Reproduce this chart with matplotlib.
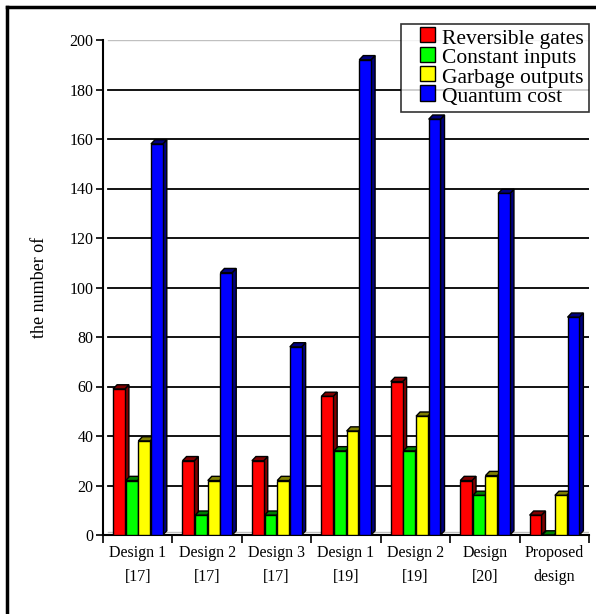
import numpy as np
import matplotlib
matplotlib.use('Agg')
import matplotlib.pyplot as plt
from matplotlib.patches import Polygon, Patch, Rectangle
from matplotlib.legend_handler import HandlerPatch

plt.rcParams['font.family'] = ['Liberation Serif', 'DejaVu Serif']

# values
designs = ['Design 1\n[17]', 'Design 2\n[17]', 'Design 3\n[17]', 'Design 1\n[19]',
           'Design 2\n[19]', 'Design\n[20]', 'Proposed\ndesign']
reversible_gates = [59, 30, 30, 56, 62, 22, 8]
constant_inputs = [22, 8, 8, 34, 34, 16, 0]
garbage_outputs = [38, 22, 22, 42, 48, 24, 16]
quantum_cost = [158, 106, 76, 192, 168, 138, 88]

series = [('Reversible gates', reversible_gates, '#ff0000', '#800000'),
          ('Constant inputs', constant_inputs, '#00ff00', '#008000'),
          ('Garbage outputs', garbage_outputs, '#ffff00', '#808000'),
          ('Quantum cost', quantum_cost, '#0000ff', '#000080')]

fig = plt.figure(figsize=(5.96, 6.14), dpi=100)
ax = fig.add_axes([103/596, 1 - 535/614, (589 - 103)/596, (535 - 40)/614])

n = len(designs)
ax.set_xlim(0, n)
ax.set_ylim(0, 200)

# fake 3d depth offsets (data units)
dx = 0.058
dy = 1.7
width = 0.17
step = 0.182
start = 0.145

# back wall grid lines
for v in range(20, 200, 20):
    ax.plot([0.07, n], [v, v], color='black', lw=1.3, zorder=1)
ax.plot([0.07, n], [200, 200], color='#c0c0c0', lw=1.0, zorder=1)
ax.plot([0.07, n], [dy * 0.6, dy * 0.6], color='#c0c0c0', lw=1.0, zorder=1)

x0 = np.arange(n)
for k, (name, vals, face, side) in enumerate(series):
    lefts = x0 + start + k * step
    ax.bar(lefts, vals, width=width, align='edge', color=face,
           edgecolor='black', lw=1.0, zorder=3)
    for xl, v in zip(lefts, vals):
        xr = xl + width
        side_poly = Polygon([(xr, 0), (xr + dx, dy), (xr + dx, v + dy), (xr, v)],
                            closed=True, facecolor=side, edgecolor='black', lw=1.0, zorder=2.9)
        top_poly = Polygon([(xl, v), (xl + dx, v + dy), (xr + dx, v + dy), (xr, v)],
                           closed=True, facecolor=side, edgecolor='black', lw=1.0, zorder=2.9)
        ax.add_patch(side_poly)
        ax.add_patch(top_poly)

ax.set_yticks(range(0, 201, 20))
ax.set_xticks(range(0, n + 1))
ax.set_xticklabels([])
ax.set_xticks(x0 + 0.5, minor=True)
ax.set_xticklabels(designs, minor=True, fontsize=11.5)
ax.tick_params(axis='x', which='minor', length=0, pad=7)
ax.tick_params(axis='x', which='major', length=6, width=1.2, direction='out')
ax.tick_params(axis='y', length=5, width=1.2, direction='out', labelsize=11.5, pad=2)
for lab in ax.get_xticklabels(minor=True):
    lab.set_linespacing(1.7)

for s in ['top', 'right']:
    ax.spines[s].set_visible(False)
ax.spines['left'].set_linewidth(1.5)
ax.spines['bottom'].set_linewidth(1.5)

fig.text(40/596, 1 - 287/614, 'the number of', rotation=90, ha='center', va='center', fontsize=13)


# small square legend keys pushed to the right of a wider handle box
def square_key(legend, orig_handle, xdescent, ydescent, width, height, fontsize):
    s = 11
    return Rectangle((width - s - xdescent, -ydescent + (height - s) / 2 + 1), s, s)


handles = [Patch(facecolor=f, edgecolor='black', label=nm) for nm, _, f, _ in series]
leg = fig.legend(handles=handles, loc='upper right', bbox_to_anchor=(589/596, 1 - 24/614),
                 fontsize=15.5, frameon=True, fancybox=False, edgecolor='black',
                 handlelength=1.35, handleheight=0.6, handletextpad=0.3,
                 labelspacing=0.0, borderpad=0.25, borderaxespad=0,
                 handler_map={Patch: HandlerPatch(patch_func=square_key)})
leg.get_frame().set_linewidth(1.2)

# outer frame lines (top and left)
fig.add_artist(plt.Line2D([7/596, 1], [1 - 7/614, 1 - 7/614], color='black', lw=2.5))
fig.add_artist(plt.Line2D([7/596, 7/596], [0, 1 - 7/614], color='black', lw=2.5))

fig.savefig('out.png', dpi=100)
